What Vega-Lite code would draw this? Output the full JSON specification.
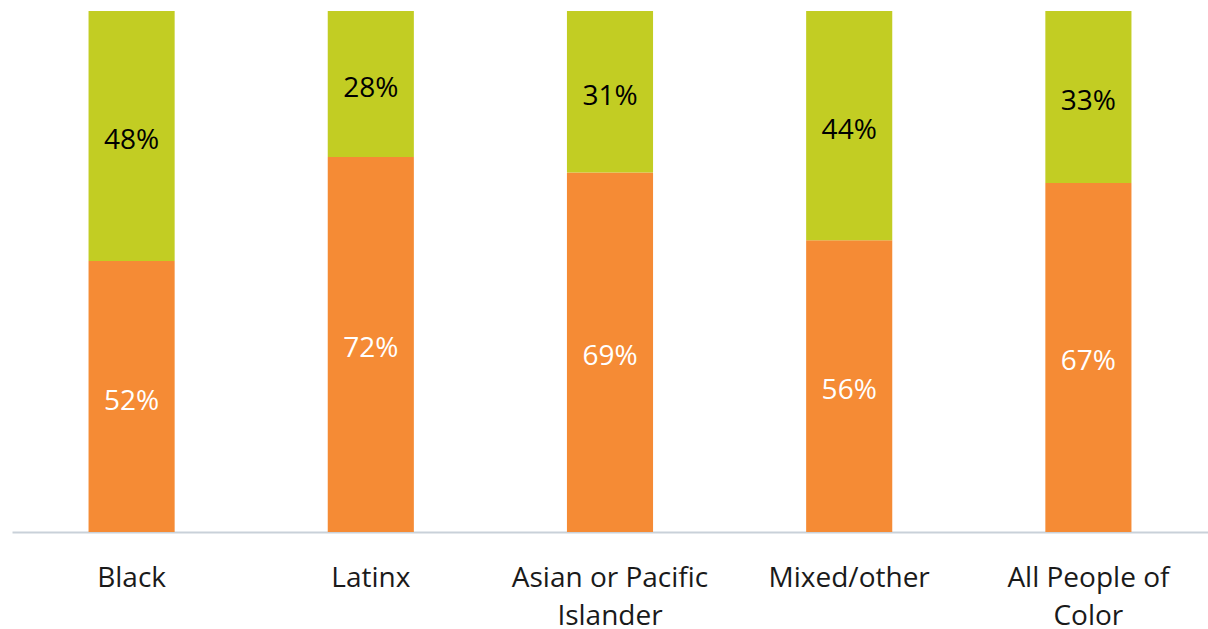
{
  "$schema": "https://vega.github.io/schema/vega-lite/v6.json",
  "width": 1196,
  "height": 521,
  "autosize": "none",
  "padding": {"left": 12, "top": 11, "right": 0, "bottom": 97},
  "background": "white",
  "config": {"view": {"stroke": null}, "font": "Open Sans"},
  "data": {
    "values": [
      {"group": "Black", "part": "orange", "order": 1, "share": 0.52},
      {"group": "Black", "part": "green", "order": 2, "share": 0.48},
      {"group": "Latinx", "part": "orange", "order": 1, "share": 0.72},
      {"group": "Latinx", "part": "green", "order": 2, "share": 0.28},
      {"group": "Asian or Pacific Islander", "part": "orange", "order": 1, "share": 0.69},
      {"group": "Asian or Pacific Islander", "part": "green", "order": 2, "share": 0.31},
      {"group": "Mixed/other", "part": "orange", "order": 1, "share": 0.56},
      {"group": "Mixed/other", "part": "green", "order": 2, "share": 0.44},
      {"group": "All People of Color", "part": "orange", "order": 1, "share": 0.67},
      {"group": "All People of Color", "part": "green", "order": 2, "share": 0.33}
    ]
  },
  "transform": [
    {"stack": "share", "groupby": ["group"], "sort": [{"field": "order", "order": "ascending"}], "offset": "normalize", "as": ["y0", "y1"]},
    {"calculate": "(datum.y0 + datum.y1) / 2", "as": "ymid"}
  ],
  "encoding": {
    "x": {
      "field": "group",
      "type": "nominal",
      "sort": ["Black", "Latinx", "Asian or Pacific Islander", "Mixed/other", "All People of Color"],
      "scale": {"paddingInner": 0.64, "paddingOuter": 0.32},
      "axis": {
        "title": null,
        "labelAngle": 0,
        "ticks": false,
        "labelPadding": 32,
        "labelFontSize": 28,
        "labelFont": "Open Sans",
        "labelColor": "#1a1a1a",
        "labelLineHeight": 38,
        "labelBaseline": "top",
        "labelLimit": 0,
        "domainColor": "#C9D1D9",
        "domainWidth": 2,
        "labelExpr": "datum.value == 'Asian or Pacific Islander' ? ['Asian or Pacific', 'Islander'] : datum.value == 'All People of Color' ? ['All People of', 'Color'] : datum.value"
      }
    }
  },
  "layer": [
    {
      "mark": {"type": "bar"},
      "encoding": {
        "y": {"field": "y0", "type": "quantitative", "scale": {"domain": [0, 1]}, "axis": null},
        "y2": {"field": "y1"},
        "color": {
          "field": "part",
          "type": "nominal",
          "scale": {"domain": ["orange", "green"], "range": ["#F58B35", "#C2CD23"]},
          "legend": null
        }
      }
    },
    {
      "mark": {"type": "text", "fontSize": 28, "font": "Open Sans", "baseline": "middle", "dy": 5},
      "encoding": {
        "y": {"field": "ymid", "type": "quantitative", "scale": {"domain": [0, 1]}},
        "text": {"field": "share", "type": "quantitative", "format": ".0%"},
        "color": {"condition": {"test": "datum.part == 'orange'", "value": "white"}, "value": "black"}
      }
    }
  ]
}
